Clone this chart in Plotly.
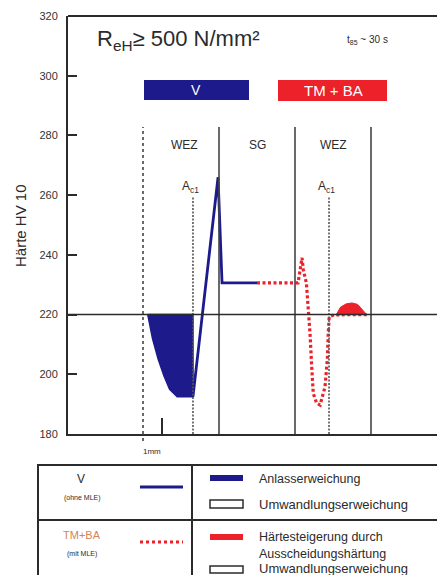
import plotly.graph_objects as go

# ---------------- data (distance in mm, hardness HV 10) ----------------
y_ticks = [180, 200, 220, 240, 260, 280, 300, 320]
base_hv = 220

# V (ohne MLE): Anlasserweichung region + profile
v_soft_x = [0.25, 0.5, 0.8, 1.1, 1.4, 1.8, 2.63]
v_soft_y = [220, 212, 205, 199.5, 195, 192.5, 192.5]
v_rise_x = [2.63, 3.95, 4.16, 6.0]
v_rise_y = [192.5, 266, 230.6, 230.6]

# TM + BA (mit MLE) profile
tm_x = [6.0, 8.16, 8.37, 8.44, 8.6, 8.7, 8.79, 8.88, 8.96, 9.14, 9.32,
        9.58, 9.7, 9.75, 9.8, 10.05, 11.84]
tm_y = [230.6, 230.6, 239, 235, 230.5, 222.6, 213.7, 202.5, 193.6, 190.3, 189.7,
        195.8, 204.8, 213.7, 219.3, 219.9, 220]

# Härtesteigerung durch Ausscheidungshärtung (bump)
bump_x = [10.2, 10.4, 10.7, 11.0, 11.3, 11.5, 11.7]
bump_y = [220.3, 222.5, 223.6, 223.9, 223.4, 222.0, 220.5]

zone_bounds = [0, 4, 8, 12]
ac1_x = [2.63, 9.79]
zone_labels = ["WEZ", "SG", "WEZ"]
zone_label_x = [2.2, 6.0, 10.0]

# ---------------- geometry helpers (layout only) ----------------
W, H = 437, 575
L, R, T, B = 68, 437, 16, 434
def px(xp):
    return (xp - L) / (R - L)
def py(yp):
    return (B - yp) / (B - T)

DARK = "#2b2b2b"
BLUE = "#1d1a8c"
RED = "#ec2129"
FONT = "Liberation Sans, Arial, sans-serif"

fig = go.Figure()

# blue softening fill
fig.add_trace(go.Scatter(
    x=v_soft_x + [v_soft_x[-1], v_soft_x[0]],
    y=v_soft_y + [base_hv, base_hv],
    fill="toself", fillcolor=BLUE, mode="lines",
    line=dict(color=BLUE, width=1.5), hoverinfo="skip", showlegend=False))
# blue profile line
fig.add_trace(go.Scatter(
    x=v_rise_x, y=v_rise_y, mode="lines",
    line=dict(color=BLUE, width=2.8), showlegend=False))
# red bump fill
fig.add_trace(go.Scatter(
    x=bump_x + [bump_x[-1], bump_x[0]],
    y=bump_y + [base_hv, base_hv],
    fill="toself", fillcolor=RED, mode="lines",
    line=dict(color=RED, width=1), showlegend=False))
# red dotted profile
fig.add_trace(go.Scatter(
    x=tm_x, y=tm_y, mode="lines",
    line=dict(color=RED, width=3.2, dash="3px,2.5px"), showlegend=False))

shapes = []
# zone boundary lines
for i, xb in enumerate(zone_bounds):
    shapes.append(dict(type="line", xref="x", yref="y", x0=xb, x1=xb,
                       y0=180, y1=282.8,
                       line=dict(color="#444", width=1.6,
                                 dash="dot" if i == 0 else "solid")))
# left line extension below axis
shapes.append(dict(type="line", xref="x", yref="paper", x0=0, x1=0,
                   y0=py(441), y1=0, line=dict(color="#444", width=1.6, dash="dot")))
# Ac1 lines
for xa in ac1_x:
    shapes.append(dict(type="line", xref="x", yref="y", x0=xa, x1=xa,
                       y0=180, y1=259.5, line=dict(color="#555", width=1.6, dash="2px,1.5px")))
# 220 reference line
shapes.append(dict(type="line", xref="paper", yref="y", x0=0, x1=1,
                   y0=base_hv, y1=base_hv, line=dict(color=DARK, width=1.6)))
# top border
shapes.append(dict(type="line", xref="paper", yref="paper", x0=0, x1=1,
                   y0=1, y1=1, line=dict(color=DARK, width=2)))
# 1mm tick
shapes.append(dict(type="line", xref="x", yref="paper", x0=1, x1=1,
                   y0=0, y1=py(418), line=dict(color=DARK, width=2)))
# process boxes
shapes.append(dict(type="rect", xref="paper", yref="paper",
                   x0=px(144), x1=px(249), y0=py(100), y1=py(80),
                   fillcolor=BLUE, line=dict(width=0)))
shapes.append(dict(type="rect", xref="paper", yref="paper",
                   x0=px(278), x1=px(387), y0=py(101), y1=py(80),
                   fillcolor=RED, line=dict(width=0)))

# legend table
tb = dict(color=DARK, width=2)
shapes.append(dict(type="rect", xref="paper", yref="paper",
                   x0=px(38), x1=px(440), y0=py(580), y1=py(465), line=tb))
shapes.append(dict(type="line", xref="paper", yref="paper",
                   x0=px(38), x1=1, y0=py(520), y1=py(520), line=tb))
shapes.append(dict(type="line", xref="paper", yref="paper",
                   x0=px(192), x1=px(192), y0=py(580), y1=py(465), line=tb))
# legend samples
shapes.append(dict(type="line", xref="paper", yref="paper",
                   x0=px(140), x1=px(183), y0=py(487), y1=py(487),
                   line=dict(color=BLUE, width=3)))
shapes.append(dict(type="line", xref="paper", yref="paper",
                   x0=px(140), x1=px(183), y0=py(542), y1=py(542),
                   line=dict(color=RED, width=3, dash="3px,3px")))
shapes.append(dict(type="rect", xref="paper", yref="paper",
                   x0=px(210), x1=px(243), y0=py(481), y1=py(475),
                   fillcolor=BLUE, line=dict(width=0)))
shapes.append(dict(type="rect", xref="paper", yref="paper",
                   x0=px(210), x1=px(243), y0=py(508), y1=py(500),
                   fillcolor="white", line=dict(color=DARK, width=1.5)))
shapes.append(dict(type="rect", xref="paper", yref="paper",
                   x0=px(210), x1=px(243), y0=py(540), y1=py(534),
                   fillcolor=RED, line=dict(width=0)))
shapes.append(dict(type="rect", xref="paper", yref="paper",
                   x0=px(210), x1=px(243), y0=py(573), y1=py(566),
                   fillcolor="white", line=dict(color=DARK, width=1.5)))

ann = []
def txt(text, xp, yp, size, color=DARK, xanchor="center", **kw):
    ann.append(dict(text=text, xref="paper", yref="paper", x=px(xp), y=py(yp),
                    xanchor=xanchor, yanchor="middle", showarrow=False,
                    font=dict(family=FONT, size=size, color=color), **kw))

txt("R<sub>eH</sub>≥ 500 N/mm²", 95, 40, 22, xanchor="left")
txt("t<sub>85</sub> ~ 30 s", 345, 40, 10, xanchor="left")
txt("V", 196, 90, 14, color="white")
txt("TM + BA", 333, 90, 15, color="white")
for lab, lx in zip(zone_labels, zone_label_x):
    ann.append(dict(text=lab, xref="x", yref="y", x=lx, y=276.8, showarrow=False,
                    font=dict(family=FONT, size=12, color=DARK)))
for xa in ac1_x:
    ann.append(dict(text="A<sub>c1</sub>", xref="x", yref="y", x=xa - 0.12, y=262.6,
                    showarrow=False, font=dict(family=FONT, size=12, color=DARK)))
txt("1mm", 152, 452, 8)
txt("Härte HV 10", 20, 225, 15, textangle=-90)

# legend text
txt("V", 81, 479, 12)
txt("(ohne MLE)", 82, 498, 7)
txt("TM+BA", 82, 535, 11, color="#d4845a")
txt("(mit MLE)", 82, 554, 7)
txt("Anlasserweichung", 257, 479, 12.5, xanchor="left")
txt("Umwandlungserweichung", 257, 504, 13, xanchor="left")
txt("Härtesteigerung durch", 257, 537, 12.5, xanchor="left")
txt("Ausscheidungshärtung", 257, 554, 12.5, xanchor="left")
txt("Umwandlungserweichung", 257, 568, 13, xanchor="left")

fig.update_layout(
    width=W, height=H, margin=dict(l=L, r=W - R, t=T, b=H - B),
    paper_bgcolor="white", plot_bgcolor="white",
    shapes=shapes, annotations=ann, showlegend=False,
    xaxis=dict(range=[(L - 143) / 19, (R - 143) / 19], showgrid=False,
               zeroline=False, showticklabels=False, ticks="",
               showline=True, linecolor=DARK, linewidth=2),
    yaxis=dict(range=[180, 320], tickvals=y_ticks, showgrid=False, zeroline=False,
               ticks="inside", ticklen=9, tickwidth=1.5, tickcolor=DARK,
               showline=True, linecolor=DARK, linewidth=2,
               tickfont=dict(family=FONT, size=11, color="#333"),
               ticklabelstandoff=6),
)

fig.write_html("out.html", config={"displayModeBar": False},
               post_script="document.body.style.margin='0';document.body.style.overflow='hidden';")
